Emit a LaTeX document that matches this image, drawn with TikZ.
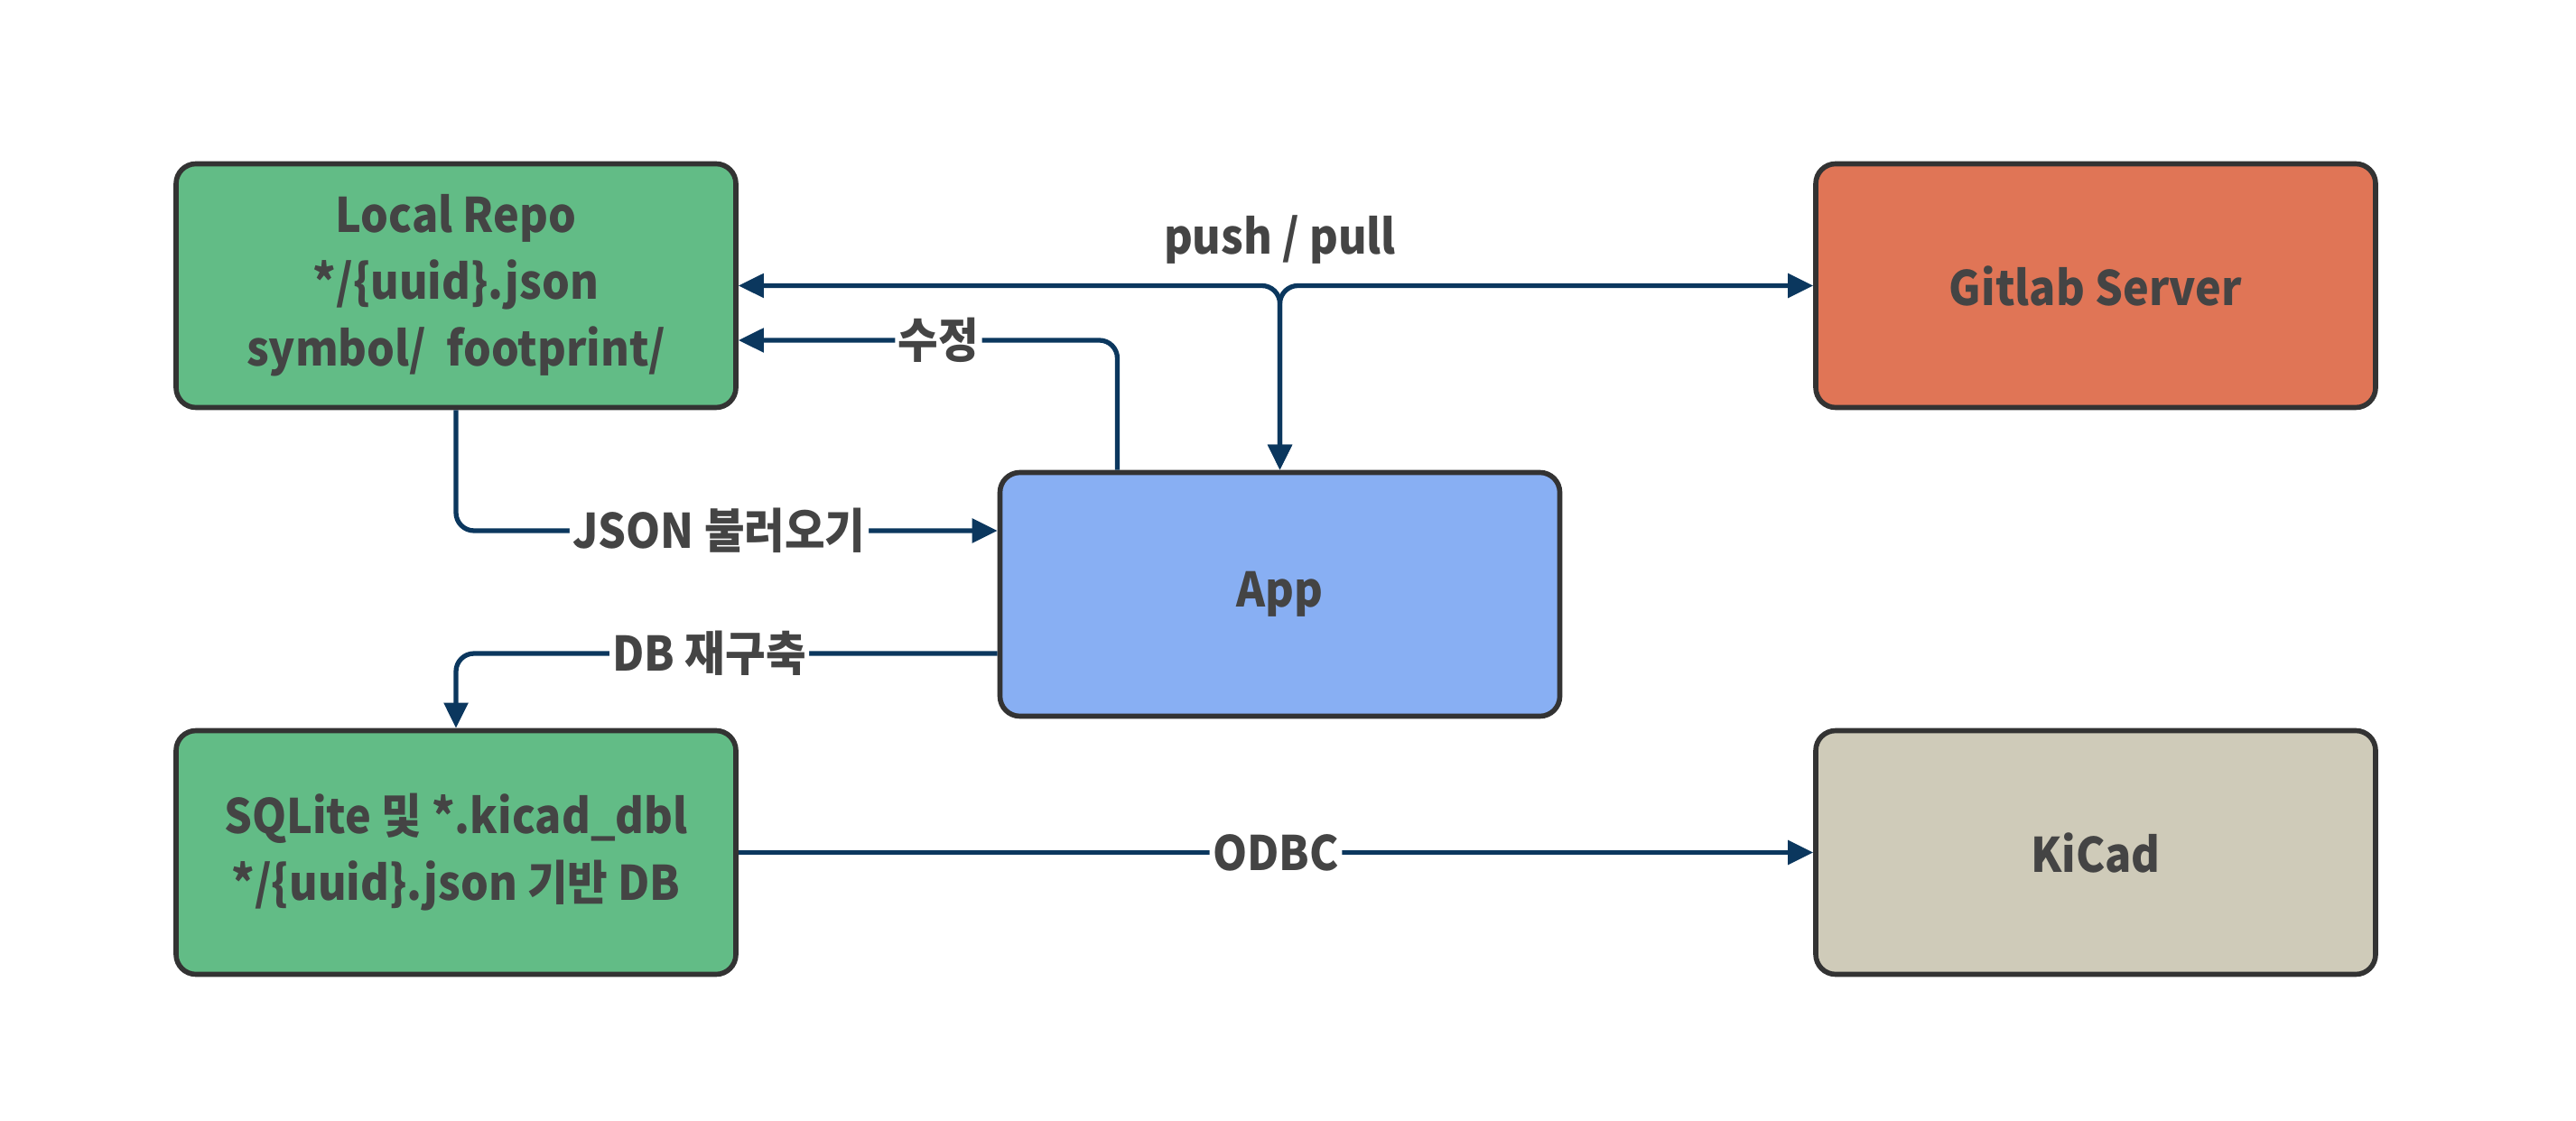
\documentclass[tikz,border=0pt]{standalone}
\usepackage{fontspec}
\setmainfont{Noto Sans CJK KR}[FakeStretch=0.92]
\usepackage{tikz}
\usetikzlibrary{arrows.meta,positioning}

\definecolor{boxline}{HTML}{333333}
\definecolor{txtgray}{HTML}{444444}
\definecolor{flowblue}{HTML}{0B375E}
\definecolor{repogreen}{HTML}{62BC86}
\definecolor{gitred}{HTML}{E07556}
\definecolor{appblue}{HTML}{88AFF3}
\definecolor{kicadbeige}{HTML}{CFCBB9}

\tikzset{
  block/.style={draw=boxline,line width=1.6pt,rounded corners=0.22cm,minimum width=6.2cm,minimum height=2.7cm,align=center,text=txtgray,font=\fontsize{15}{21}\selectfont\bfseries},
  tip/.style={Triangle[length=0.28cm,width=0.26cm]},
  flow/.style={draw=flowblue,line width=1.5pt,rounded corners=0.2cm,-{Triangle[length=0.28cm,width=0.26cm]}},
  lbl/.style={fill=white,text=txtgray,inner sep=1pt,font=\fontsize{15}{18}\selectfont\bfseries}
}

\begin{document}
\begin{tikzpicture}
\useasboundingbox (0,0) rectangle (28.53,12.41);
% the boxes
\node[block,fill=repogreen] (repo) at (5.05,9.245) {Local Repo\\*/\{uuid\}.json\\symbol/\ \ footprint/};
\node[block,fill=gitred] (gitlab) at (23.21,9.245) {Gitlab Server};
\node[block,fill=appblue] (app) at (14.175,5.825) {App};
\node[block,fill=repogreen] (sqlite) at (5.05,2.965) {SQLite 및 *.kicad\_dbl\\*/\{uuid\}.json 기반 DB};
\node[block,fill=kicadbeige] (kicad) at (23.21,2.965) {KiCad};

% the connectors
\draw[flow,{Triangle[length=0.28cm,width=0.26cm]}-{Triangle[length=0.28cm,width=0.26cm]}] (app.north) |- (repo.east);
\draw[flow,{Triangle[length=0.28cm,width=0.26cm]}-{Triangle[length=0.28cm,width=0.26cm]}] (app.north) |- (gitlab.west);
\node[text=txtgray,font=\fontsize{15}{18}\selectfont\bfseries] (pushpull) at (14.175,9.75) {push / pull};
\draw[flow] ([xshift=-1.8cm]app.north) |- node[lbl,pos=0.736] (edit) {수정} ([yshift=-0.605cm]repo.east);
\draw[flow] (repo.south) |- node[lbl,pos=0.743] (load) {JSON 불러오기} ([yshift=0.705cm]app.west);
\draw[flow] ([yshift=-0.655cm]app.west) -| node[lbl,pos=0.266] (rebuild) {DB 재구축} (sqlite.north);
\draw[flow] (sqlite.east) -- node[lbl] (odbc) {ODBC} (kicad.west);
\end{tikzpicture}
\end{document}
